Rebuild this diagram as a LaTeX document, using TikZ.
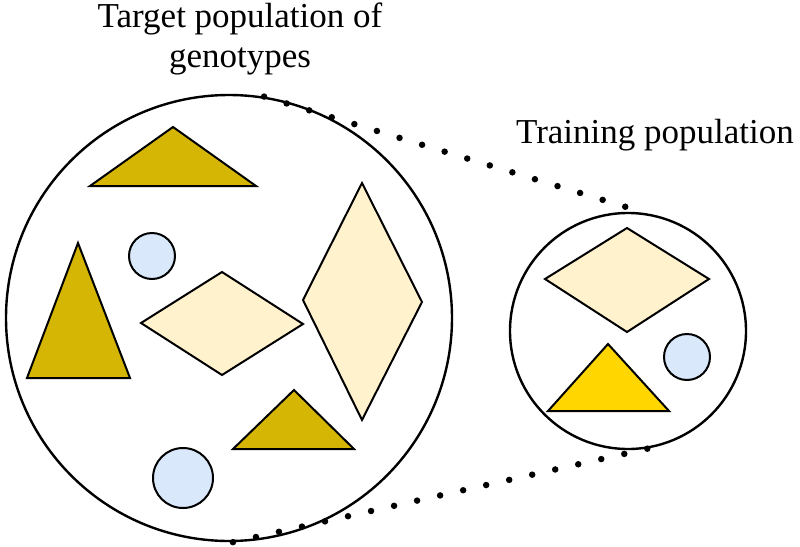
\documentclass[tikz,border=0pt]{standalone}
\usepackage{fontspec}
\setmainfont{Liberation Serif}
\definecolor{goldfill}{RGB}{214,182,4}
\definecolor{yellowfill}{RGB}{255,214,0}
\definecolor{creamfill}{RGB}{255,242,204}
\definecolor{bluefill}{RGB}{218,232,252}
\tikzset{
  popcircle/.style={circle, draw=black, line width=2.4pt, inner sep=0pt, fill=white},
  shapeline/.style={draw=black, line width=2pt, line join=miter},
  goldtri/.style={shapeline, fill=goldfill},
  yellowtri/.style={shapeline, fill=yellowfill},
  creamdia/.style={shapeline, fill=creamfill},
  bluedot/.style={shapeline, fill=bluefill},
  zoomline/.style={draw=black, line width=6.5pt, line cap=round, dash pattern=on 0pt off 23.6pt},
  label/.style={font=\fontsize{35}{40}\selectfont, inner sep=0pt, align=center, anchor=base}
}
\begin{document}
\begin{tikzpicture}[x=1pt,y=-1pt]
\useasboundingbox (0,0) rectangle (800,546);
% labels
\node[label] (targetlbl) at (240,67) {Target population of\\genotypes};
\node[label] (traininglbl) at (655,143) {Training population};
% circles
\node[popcircle, minimum size=446pt] (big) at (229,318) {};
\node[popcircle, minimum size=236pt] (small) at (628,331) {};
% connecting dotted lines
\draw[zoomline] (big.81.4) -- (small.81.2);
\draw[zoomline] (big.-89) -- (small.-80.5);
% shapes in the target population
\draw[goldtri] (173,127) -- (256,186) -- (90,186) -- cycle;
\draw[goldtri] (78,243) -- (130,378) -- (27,378) -- cycle;
\draw[goldtri] (294,390) -- (354,449) -- (233,449) -- cycle;
\draw[creamdia] (141,323) -- (222,272) -- (303,324) -- (222,375) -- cycle;
\draw[creamdia] (362,183) -- (422,302) -- (362,420) -- (303,300) -- cycle;
\draw[bluedot] (152,256) circle (23);
\draw[bluedot] (183,478) circle (30);
% shapes in the training population
\draw[creamdia] (545,279) -- (627,228) -- (709,279) -- (627,332) -- cycle;
\draw[yellowtri] (608,344) -- (669,411) -- (548,411) -- cycle;
\draw[bluedot] (687,357) circle (23);
\end{tikzpicture}
\end{document}
